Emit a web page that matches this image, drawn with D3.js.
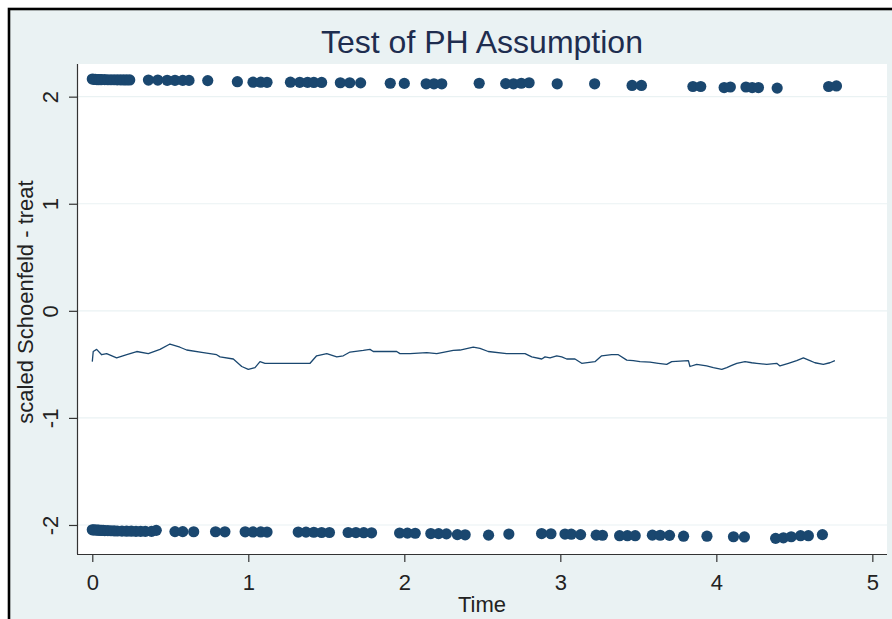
<!DOCTYPE html>
<html>
<head>
<meta charset="utf-8">
<script src="https://cdn.jsdelivr.net/npm/d3@7"></script>
<style>
  html, body { margin: 0; padding: 0; background: #ffffff; }
  svg { display: block; }
  text { font-family: "Liberation Sans", Arial, Helvetica, sans-serif; }
</style>
</head>
<body>
<svg id="chart" width="892" height="619"></svg>
<script>
// Scaled Schoenfeld residuals for "treat" against analysis time
const topTime = [0, 0.01, 0.02, 0.03, 0.04, 0.05, 0.06, 0.08, 0.10, 0.12, 0.14, 0.16, 0.18, 0.20, 0.22, 0.24,
  0.36, 0.42, 0.48, 0.53, 0.58, 0.62, 0.74, 0.93, 1.03, 1.08, 1.12, 1.27, 1.33, 1.38, 1.42, 1.47,
  1.59, 1.65, 1.72, 1.91, 2.00, 2.14, 2.19, 2.24, 2.48, 2.65, 2.70, 2.75, 2.80, 2.98, 3.22,
  3.46, 3.52, 3.85, 3.90, 4.05, 4.09, 4.19, 4.23, 4.27, 4.39, 4.72, 4.77];
const topResid = [2.165, 2.162, 2.162, 2.16, 2.16, 2.16, 2.16, 2.16, 2.158, 2.158, 2.158, 2.157, 2.157, 2.156, 2.156, 2.156,
  2.155, 2.155, 2.153, 2.153, 2.152, 2.152, 2.15, 2.14, 2.135, 2.135, 2.134, 2.135, 2.134, 2.134, 2.133, 2.133,
  2.13, 2.13, 2.129, 2.125, 2.124, 2.12, 2.12, 2.12, 2.125, 2.122, 2.12, 2.125, 2.13, 2.12, 2.12,
  2.105, 2.105, 2.095, 2.095, 2.085, 2.09, 2.09, 2.085, 2.085, 2.08, 2.095, 2.10];

const botTime = [0, 0.01, 0.02, 0.03, 0.04, 0.05, 0.06, 0.07, 0.08, 0.10, 0.12, 0.14, 0.16, 0.19, 0.22, 0.25, 0.28, 0.31, 0.34, 0.38, 0.41,
  0.53, 0.58, 0.65, 0.79, 0.85, 0.98, 1.03, 1.08, 1.12, 1.32, 1.37, 1.42, 1.47, 1.52,
  1.64, 1.69, 1.74, 1.79, 1.97, 2.02, 2.07, 2.17, 2.22, 2.27, 2.34, 2.39,
  2.54, 2.67, 2.88, 2.94, 3.03, 3.07, 3.13, 3.23, 3.27, 3.38, 3.43, 3.48,
  3.59, 3.64, 3.70, 3.79, 3.94, 4.11, 4.18, 4.38, 4.43, 4.48, 4.54, 4.59, 4.68];
const botResid = [-2.045, -2.045, -2.047, -2.048, -2.048, -2.05, -2.05, -2.05, -2.052, -2.053, -2.054, -2.055, -2.056, -2.057, -2.058, -2.058, -2.059, -2.06, -2.06, -2.06, -2.05,
  -2.062, -2.062, -2.063, -2.063, -2.064, -2.064, -2.065, -2.065, -2.066, -2.066, -2.067, -2.068, -2.07, -2.07,
  -2.07, -2.071, -2.072, -2.073, -2.075, -2.076, -2.077, -2.08, -2.081, -2.083, -2.09, -2.092,
  -2.095, -2.085, -2.08, -2.082, -2.085, -2.086, -2.09, -2.095, -2.096, -2.10, -2.10, -2.10,
  -2.095, -2.096, -2.097, -2.105, -2.105, -2.11, -2.112, -2.125, -2.12, -2.11, -2.10, -2.10, -2.09];

// Smoothed curve through the residuals
const smoothTime = [0.000, 0.006, 0.028, 0.060, 0.092, 0.156, 0.221, 0.285, 0.359, 0.434, 0.498, 0.562, 0.605, 0.712, 0.797, 0.819,
  0.904, 0.958, 1.000, 1.043, 1.075, 1.107, 1.396, 1.438, 1.503, 1.567, 1.609, 1.652, 1.737, 1.780, 1.801, 1.951, 1.972, 2.037,
  2.144, 2.208, 2.314, 2.357, 2.442, 2.485, 2.538, 2.656, 2.699, 2.774, 2.817, 2.881, 2.902, 2.934, 2.977, 3.009, 3.041, 3.094,
  3.137, 3.222, 3.265, 3.329, 3.372, 3.426, 3.468, 3.511, 3.575, 3.628, 3.682, 3.714, 3.821, 3.831, 3.874, 3.938, 3.981, 4.035,
  4.067, 4.099, 4.131, 4.184, 4.227, 4.259, 4.323, 4.387, 4.408, 4.462, 4.515, 4.558, 4.600, 4.632, 4.686, 4.728, 4.760];
const smoothVal = [-0.475, -0.38, -0.36, -0.41, -0.40, -0.44, -0.41, -0.38, -0.40, -0.36, -0.31, -0.34, -0.366, -0.39, -0.41, -0.43,
  -0.45, -0.52, -0.546, -0.53, -0.475, -0.49, -0.49, -0.42, -0.40, -0.43, -0.42, -0.385, -0.37, -0.36, -0.38, -0.38, -0.40, -0.40,
  -0.39, -0.40, -0.37, -0.366, -0.34, -0.35, -0.38, -0.40, -0.40, -0.40, -0.43, -0.45, -0.43, -0.44, -0.42, -0.43, -0.45, -0.45,
  -0.49, -0.475, -0.42, -0.41, -0.41, -0.46, -0.465, -0.475, -0.48, -0.49, -0.50, -0.475, -0.465, -0.52, -0.50, -0.515, -0.53, -0.546,
  -0.53, -0.51, -0.49, -0.475, -0.485, -0.49, -0.50, -0.49, -0.515, -0.49, -0.465, -0.44, -0.465, -0.485, -0.50, -0.485, -0.465];

const xTicks = [0, 1, 2, 3, 4, 5];
const yTicks = [-2, -1, 0, 1, 2];
const titleText = "Test of PH Assumption";
const xTitle = "Time";
const yTitle = "scaled Schoenfeld - treat";

const W = 892, H = 619;
const plot = { left: 77, right: 887, top: 64, bottom: 554 };
const navy = "#1a476f";

const svg = d3.select("#chart");

// graph background and outer frame
svg.append("rect").attr("x", 9).attr("y", 9).attr("width", W + 20).attr("height", H + 20)
  .attr("fill", "#eaf2f3").attr("stroke", "#000").attr("stroke-width", 2.6);

// plot region
svg.append("rect").attr("x", plot.left).attr("y", plot.top)
  .attr("width", plot.right - plot.left).attr("height", plot.bottom - plot.top)
  .attr("fill", "#ffffff");

const x = d3.scaleLinear().domain([-0.098, 5.094]).range([plot.left, plot.right]);
const y = d3.scaleLinear().domain([-2.271, 2.305]).range([plot.bottom, plot.top]);

// horizontal grid lines
svg.append("g").selectAll("line").data(yTicks).join("line")
  .attr("x1", plot.left).attr("x2", plot.right)
  .attr("y1", d => y(d)).attr("y2", d => y(d))
  .attr("stroke", "#eaf2f3").attr("stroke-width", 1.2);

// residual markers
const markers = svg.append("g").attr("fill", navy);
markers.selectAll("circle.top").data(topTime).join("circle").attr("class", "top")
  .attr("cx", d => x(d)).attr("cy", (d, i) => y(topResid[i])).attr("r", 5.6);
markers.selectAll("circle.bot").data(botTime).join("circle").attr("class", "bot")
  .attr("cx", d => x(d)).attr("cy", (d, i) => y(botResid[i])).attr("r", 5.6);

// smoothed line
const line = d3.line().x(d => x(d[0])).y(d => y(d[1]));
svg.append("path").datum(smoothTime.map((t, i) => [t, smoothVal[i]]))
  .attr("d", line).attr("fill", "none").attr("stroke", navy).attr("stroke-width", 1.3)
  .attr("stroke-linejoin", "round");

// axes (plain hyphen for negative tick labels)
const fmt = d => String(d);
const axisColor = "#333";
const xAxis = svg.append("g").attr("transform", `translate(0,${plot.bottom})`)
  .call(d3.axisBottom(x).tickValues(xTicks).tickSize(8).tickPadding(10).tickFormat(fmt));
const yAxis = svg.append("g").attr("transform", `translate(${plot.left},0)`)
  .call(d3.axisLeft(y).tickValues(yTicks).tickSize(8).tickFormat(fmt));

[xAxis, yAxis].forEach(g => {
  g.select(".domain").attr("stroke", axisColor).attr("stroke-width", 1.2);
  g.selectAll(".tick line").attr("stroke", axisColor).attr("stroke-width", 1.2);
  g.selectAll(".tick text").attr("fill", "#222").style("font-size", "22px")
    .style("font-family", "'Liberation Sans', Arial, sans-serif");
});
// axis lines span the plot region only
xAxis.select(".domain").attr("d", `M${plot.left},0.5H${plot.right}`);
yAxis.select(".domain").attr("d", `M0.5,${plot.top}V${plot.bottom}`);

xAxis.selectAll(".tick text").attr("dy", null).attr("y", 36);

// y tick labels run vertically
yAxis.selectAll(".tick text")
  .attr("x", 0).attr("y", -19).attr("dy", null)
  .attr("text-anchor", "middle").attr("transform", "rotate(-90)");

// titles
svg.append("text").attr("x", (plot.left + plot.right) / 2).attr("y", 53)
  .attr("text-anchor", "middle").attr("fill", "#1e2d4f").style("font-size", "32px").text(titleText);
svg.append("text").attr("x", (plot.left + plot.right) / 2).attr("y", 612)
  .attr("text-anchor", "middle").attr("fill", "#222").style("font-size", "22px").text(xTitle);
svg.append("text").attr("transform", `translate(33,302) rotate(-90)`)
  .attr("text-anchor", "middle").attr("fill", "#222").style("font-size", "22px").text(yTitle);
</script>
</body>
</html>
